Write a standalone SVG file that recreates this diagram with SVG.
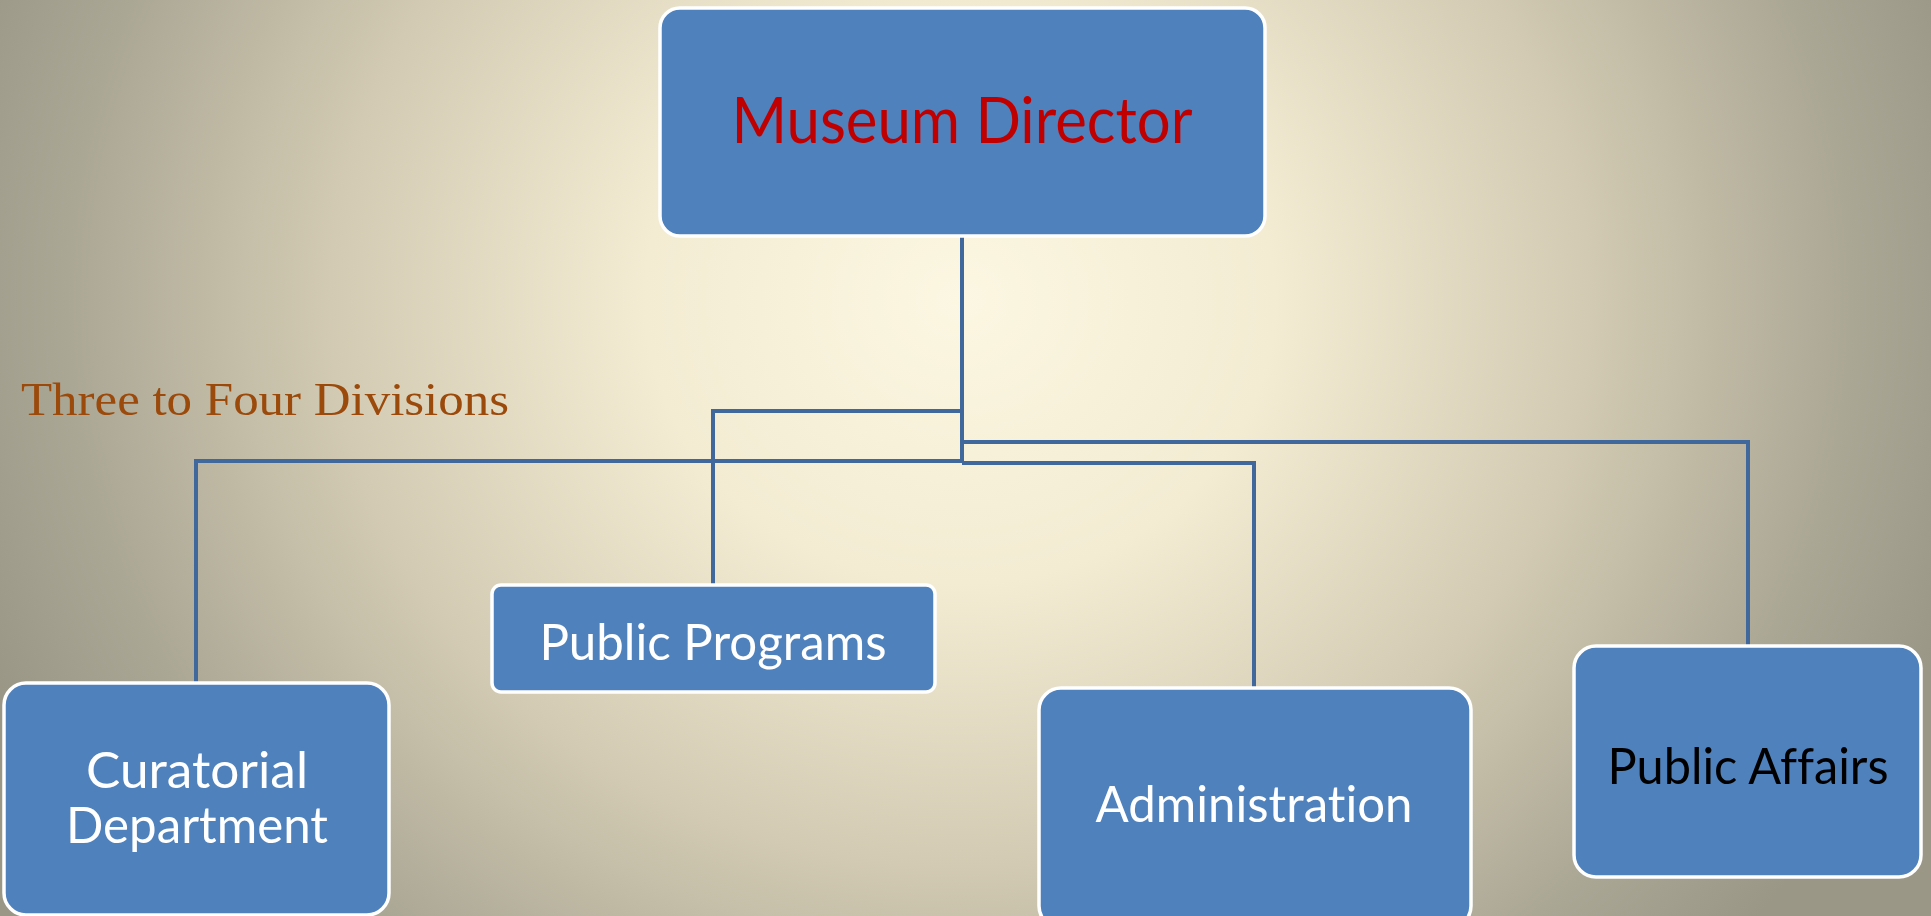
<svg xmlns="http://www.w3.org/2000/svg" width="1931" height="916" viewBox="0 0 1931 916">
<defs>
<radialGradient id="bg" gradientUnits="userSpaceOnUse" cx="960" cy="300" r="1050" gradientTransform="translate(960 300) scale(1 0.9) translate(-960 -300)">
<stop offset="0" stop-color="#FCF7E2"/>
<stop offset="0.3" stop-color="#F3ECD3"/>
<stop offset="0.6" stop-color="#D2CAB2"/>
<stop offset="0.85" stop-color="#ABA795"/>
<stop offset="1" stop-color="#9A9787"/>
</radialGradient>
<style>
.box{fill:#4F81BD;stroke:#FFFFFF;stroke-width:3.5}
.lbl{font-family:Lato,"Open Sans","Liberation Sans",sans-serif;fill:#FFFFFF;text-anchor:middle;font-variant-ligatures:none}
.conn{fill:none;stroke:#41689C;stroke-width:4}
</style>
</defs>
<rect x="0" y="0" width="1931" height="916" fill="url(#bg)"/>
<text x="21" y="415" font-family="Liberation Serif, serif" font-size="46" fill="#9B4A0B" textLength="488" lengthAdjust="spacingAndGlyphs">Three to Four Divisions</text>
<g id="connectors">
<polyline class="conn" points="962,236 962,463"/>
<polyline class="conn" points="962,411 713,411 713,584"/>
<polyline class="conn" points="962,461 196,461 196,682"/>
<polyline class="conn" points="962,442 1748,442 1748,645"/>
<polyline class="conn" points="962,463 1254,463 1254,687"/>
</g>
<g id="director">
<rect class="box" x="660" y="8" width="605" height="228" rx="20"/>
<text class="lbl" x="962" y="143" font-size="64" style="fill:#C00000" textLength="461" lengthAdjust="spacingAndGlyphs">Museum Director</text>
</g>
<g id="curatorial">
<rect class="box" x="4" y="683" width="385" height="232" rx="22"/>
<text class="lbl" x="197" y="788" font-size="50" textLength="222" lengthAdjust="spacingAndGlyphs">Curatorial</text>
<text class="lbl" x="197" y="843" font-size="50" textLength="262" lengthAdjust="spacingAndGlyphs">Department</text>
</g>
<g id="public-programs">
<rect class="box" x="492" y="585" width="443" height="107" rx="9"/>
<text class="lbl" x="713" y="660" font-size="50" textLength="347" lengthAdjust="spacingAndGlyphs">Public  Programs</text>
</g>
<g id="administration">
<rect class="box" x="1039" y="688" width="432" height="240" rx="22"/>
<text class="lbl" x="1254" y="822" font-size="50" textLength="317" lengthAdjust="spacingAndGlyphs">Administration</text>
</g>
<g id="public-affairs">
<rect class="box" x="1574" y="646" width="347" height="231" rx="22"/>
<text class="lbl" x="1748" y="784" font-size="50" style="fill:#000000" textLength="281" lengthAdjust="spacingAndGlyphs">Public  Affairs</text>
</g>
</svg>
